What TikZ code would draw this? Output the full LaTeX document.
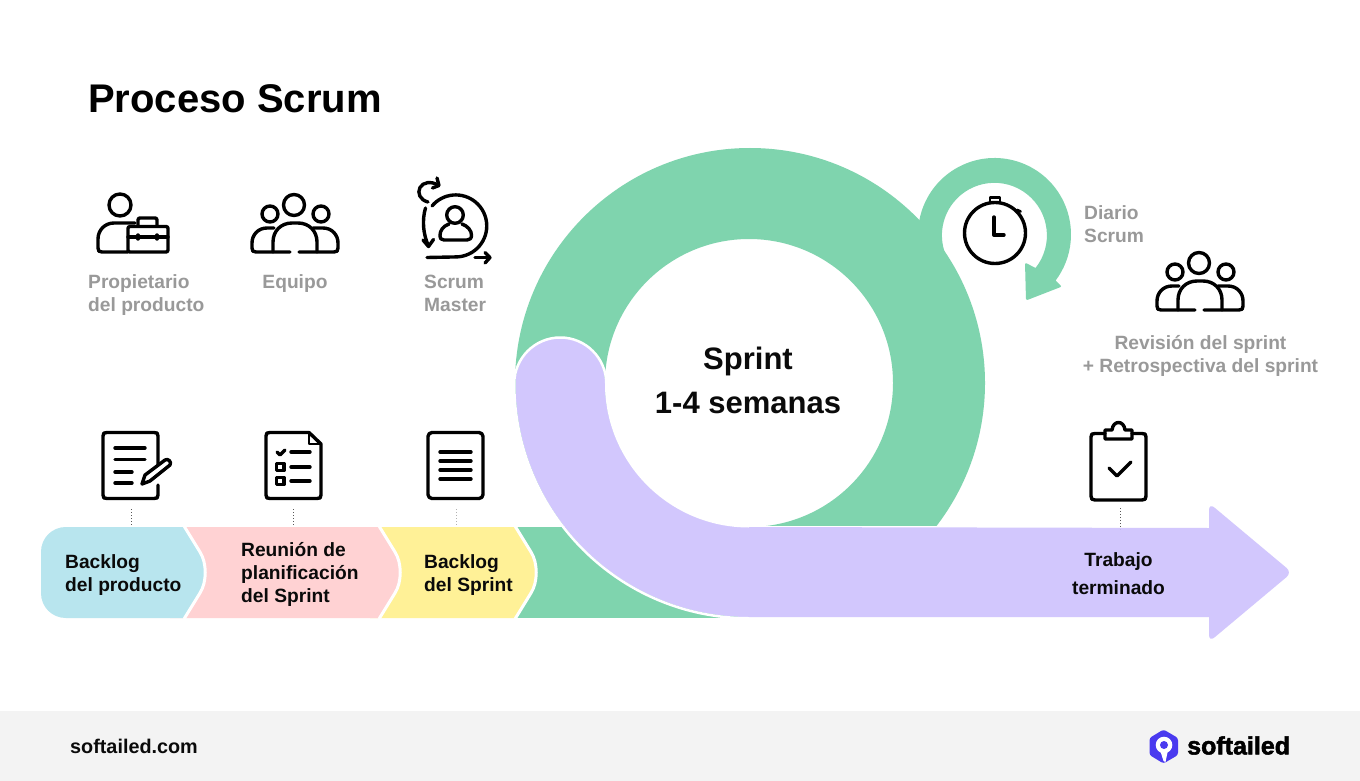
\documentclass[tikz,border=0pt]{standalone}
\usepackage{fontspec}
\setmainfont{Liberation Sans}
\newfontfamily\brandfont[BoldFeatures={FakeBold=2}]{Liberation Sans}
\usetikzlibrary{arrows.meta}
\definecolor{ringgreen}{HTML}{7FD4AE}
\definecolor{lav}{HTML}{D2C7FD}
\definecolor{cblue}{HTML}{B8E5EE}
\definecolor{cpink}{HTML}{FFD2D3}
\definecolor{cyellow}{HTML}{FFF197}
\definecolor{foot}{HTML}{F3F3F3}
\definecolor{logoblue}{HTML}{4A3AEF}
\definecolor{graytxt}{HTML}{999999}
\definecolor{inkblack}{HTML}{0A0A0A}
\tikzset{
  icon/.style={draw=black,line width=3.4pt,line cap=round,line join=round},
  greylab/.style={inner sep=0pt,text=graytxt,font=\bfseries\fontsize{19.2}{23}\selectfont},
  darklab/.style={inner sep=0pt,text=inkblack,font=\bfseries\fontsize{19.2}{23}\selectfont},
  leader/.style={draw=black!65,line width=0.7pt,dash pattern=on 1pt off 2pt},
}
\newcommand{\teamicon}[2]{%
  \begin{scope}[shift={(#1,#2)}]
    \draw[icon] (294,205) circle[radius=10.5];
    \draw[icon] (270,214) circle[radius=8];
    \draw[icon] (321,214) circle[radius=8];
    \draw[icon] (273,252) -- (273,242) .. controls (273,231) and (281,223) .. (292,223) -- (298,223) .. controls (309,223) and (317,231) .. (317,242) -- (317,252);
    \draw[icon] (290,252) -- (256,252) .. controls (253,252) and (252,251) .. (252,248) -- (252,243) .. controls (252,235) and (258,228) .. (267,228) -- (274,228);
    \draw[icon] (299,252) -- (334,252) .. controls (337,252) and (338,251) .. (338,248) -- (338,243) .. controls (338,235) and (332,228) .. (323,228) -- (313,228);
  \end{scope}}
\newcommand{\chevronfill}[3]{%
  \fill[#1] (#2,527) -- (#3,527) -- (#3+16,552) .. controls (#3+23,563) and (#3+23,582) .. (#3+16,593) -- (#3,618) -- (#2,618) -- cycle;
  \draw[white,line width=3pt] (#3,526) -- (#3+16,552) .. controls (#3+23,563) and (#3+23,582) .. (#3+16,593) -- (#3,619);}
\begin{document}
\begin{tikzpicture}[x=1pt,y=1pt,yscale=-1]
\useasboundingbox (0,0) rectangle (1360,781);
\fill[white] (0,0) rectangle (1360,781);
\fill[foot] (0,711) rectangle (1360,781);

% Big ring
\begin{scope}
  \clip (400,100) rectangle (1100,525);
  \fill[ringgreen,even odd rule] (750,383) circle[radius=235] (749,383) circle[radius=144];
\end{scope}
% Daily loop
\fill[ringgreen] (994.5,234.5) ++(155:76.5) arc[start angle=155,end angle=397,radius=76.5]
   -- (1059,284) [rounded corners=2pt] -- (1062,286.5) -- (1026,300.5) -- (1025,262.5) [sharp corners] -- (1035.5,268)
   arc[start angle=398.5,end angle=155,radius=52.5] -- cycle;
% Lower green band
\fill[ringgreen] (510,527) rectangle (740,618);
% Chevrons
\chevronfill{cyellow}{370}{515}
\chevronfill{cpink}{170}{379}
\fill[cblue] (66,527) -- (184,527) -- (184+16,552) .. controls (184+23,563) and (184+23,582) .. (184+16,593) -- (184,618) -- (66,618) .. controls (52,618) and (41,607) .. (41,593) -- (41,552) .. controls (41,538) and (52,527) .. (66,527) -- cycle;
\draw[white,line width=3pt] (184,526) -- (184+16,552) .. controls (184+23,563) and (184+23,582) .. (184+16,593) -- (184,619);

% Lavender arrow
\fill[lav] (515.5,383) arc[start angle=180,end angle=360,radius=44.75]
  arc[start angle=180,end angle=90,radius=144] -- (1209,528)
  [rounded corners=7pt] -- (1209,503) -- (1292,572.5) -- (1209,642) [sharp corners] -- (1209,617) -- (749,617)
  arc[start angle=90,end angle=180,radius=233.5] -- cycle;
\draw[white,line width=2.5pt] (749,618.25) arc[start angle=90,end angle=180,radius=234.75] arc[start angle=180,end angle=360,radius=46] arc[start angle=180,end angle=90,radius=142.75];

% Leaders
\coordinate (l1a) at (131,509); \coordinate (l1b) at (131,527);
\coordinate (l2a) at (293,509); \coordinate (l2b) at (293,527);
\coordinate (l3a) at (456,509); \coordinate (l3b) at (456,527);
\coordinate (l4a) at (1120,508); \coordinate (l4b) at (1120,529);
\draw[leader] (l1a) -- (l1b);
\draw[leader] (l2a) -- (l2b);
\draw[leader,draw=black!30] (l3a) -- (l3b);
\draw[leader] (l4a) -- (l4b);

% Owner icon
\draw[icon] (120,205) circle[radius=11];
\draw[icon] (135,223) -- (114,223) .. controls (105,223) and (98,230) .. (98,239) -- (98,248) .. controls (98,251) and (99,252) .. (102,252) -- (128,252);
\draw[icon,rounded corners=2pt] (128,226.5) rectangle (168,252);
\draw[icon] (128,237) -- (168,237);
\draw[icon] (138,235) -- (138,239);
\draw[icon] (157,235) -- (157,239);
\draw[icon] (138,226) -- (138,220) .. controls (138,218.5) and (139,218) .. (140,218) -- (155,218) .. controls (156,218) and (157,218.5) .. (157,220) -- (157,226);

% Team icons
\teamicon{0}{0}
\teamicon{905}{58}

% Scrum master icon
\draw[icon] (432,206) arc[start angle=-140,end angle=90,radius=31] -- (427,257.5);
\draw[icon] (425.5,208) .. controls (422,220) and (423,234) .. (428.5,246);
\draw[icon] (423,240) -- (428.5,246.5) -- (433.5,239.5);
\draw[icon] (475,257.5) -- (490,257.5);
\draw[icon] (485,252.5) -- (490,257.5) -- (485,263);
\draw[icon] (428,202) .. controls (420,200) and (417,193) .. (420,187.5) .. controls (423,182) and (431,181) .. (438,185);
\draw[icon] (437,178) -- (439,185.5) -- (432.5,188);
\draw[icon] (455,215) circle[radius=8.3];
\draw[icon] (449,224) .. controls (443,226) and (440,231) .. (440,235) .. controls (440,238.5) and (441,240) .. (444,240) -- (467,240) .. controls (470,240) and (471.5,238.5) .. (471.5,235) .. controls (471.5,231) and (468,226) .. (462,224);

% Backlog icon
\draw[icon] (158,465) -- (158,436) .. controls (158,433) and (157,432.5) .. (154,432.5) -- (107,432.5) .. controls (104,432.5) and (103,433) .. (103,436) -- (103,495) .. controls (103,498) and (104,498.5) .. (107,498.5) -- (154,498.5) .. controls (157,498.5) and (158,498) .. (158,495) -- (158,485);
\draw[icon] (115,448) -- (145,448) (115,459.5) -- (145,459.5) (115,472) -- (132,472) (115,483) -- (132,483);
\draw[icon] (142,484) -- (145,475) -- (165,460) .. controls (168,458) and (172,462) .. (170,465) -- (150,481) -- cycle;

% Checklist icon
\draw[icon] (309,432.5) -- (270,432.5) .. controls (267,432.5) and (266,433) .. (266,436) -- (266,495) .. controls (266,498) and (267,498.5) .. (270,498.5) -- (317,498.5) .. controls (320,498.5) and (321,498) .. (321,495) -- (321,444) -- cycle;
\draw[icon,line width=2pt] (309,432.5) -- (309,444) -- (321,444);
\draw[icon] (277,452) -- (280,455) -- (285,450);
\draw[icon] (291,452) -- (310,452) (291,467) -- (310,467) (291,481) -- (310,481);
\draw[icon] (276.5,463.5) rectangle (284,470.5);
\draw[icon] (276.5,477.5) rectangle (284,484.5);

% Document icon
\draw[icon,rounded corners=4pt] (428,432.5) rectangle (483,498.5);
\draw[icon] (440,452) -- (471,452) (440,461) -- (471,461) (440,470) -- (471,470) (440,479) -- (471,479);

% Clipboard icon
\draw[icon] (1105,433.5) -- (1095,433.5) .. controls (1092,433.5) and (1091,434) .. (1091,437) -- (1091,496) .. controls (1091,499) and (1092,500) .. (1095,500) -- (1142,500) .. controls (1145,500) and (1146,499) .. (1146,496) -- (1146,437) .. controls (1146,434) and (1145,433.5) .. (1142,433.5) -- (1132,433.5);
\draw[icon] (1105,430) -- (1105,439) -- (1132,439) -- (1132,430) -- (1125,430) .. controls (1124,420) and (1113,420) .. (1112,430) -- cycle;
\draw[icon] (1109,468) -- (1117,476) -- (1131,462);

% Stopwatch icon
\draw[icon] (995,233) circle[radius=30.5];
\draw[icon,line width=2.8pt] (990,202) -- (990,197.5) -- (1000,197.5) -- (1000,202);
\draw[icon,line width=2.8pt] (1017,210) -- (1020.5,211.5);
\draw[icon] (994,217) -- (994,235) -- (1004,235);

% Texts
\node[anchor=west,inner sep=0pt,text=black,font=\bfseries\fontsize{40}{48}\selectfont] (title) at (88,99) {Proceso Scrum};
\node[greylab,anchor=west,align=left] (owner) at (88,295.5) {Propietario\\del producto};
\node[greylab] (team) at (295,283.5) {Equipo};
\node[greylab,anchor=west,align=left] (master) at (424,293.5) {Scrum\\Master};
\node[greylab,anchor=west,align=left] (daily) at (1084,224.5) {Diario\\Scrum};
\node[greylab,align=center] (review) at (1200.5,356) {Revisión del sprint\\+ Retrospectiva del sprint};
\node[inner sep=0pt,text=inkblack,font=\bfseries\fontsize{31}{44}\selectfont,align=center] (sprint) at (748,380.5) {Sprint\\1-4 semanas};
\node[darklab,anchor=west,align=left] (pb) at (65,575) {Backlog\\del producto};
\node[darklab,anchor=west,align=left] (plan) at (241,574.5) {Reunión de\\planificación\\del Sprint};
\node[darklab,anchor=west,align=left] (sb) at (424,575.5) {Backlog\\del Sprint};
\node[inner sep=0pt,text=inkblack,font=\bfseries\fontsize{19.2}{28}\selectfont,align=center] (done) at (1118.5,573.5) {Trabajo\\terminado};
\node[anchor=west,inner sep=0pt,text=inkblack,font=\bfseries\fontsize{19.8}{23}\selectfont] (site) at (70,746) {softailed.com};

% Logo
\fill[logoblue,rounded corners=2.5pt] (1163.5,729.5) -- (1178,738) -- (1178,755) -- (1163.5,763.5) -- (1149.5,755) -- (1149.5,738) -- cycle;
\fill[white] (1164,745) circle[radius=8.3];
\fill[white] (1160,750) -- (1168,750) -- (1165.5,762) -- (1163.5,761) -- cycle;
\fill[logoblue] (1164,745) circle[radius=4];
\node[anchor=west,inner sep=0pt,text=black,font=\brandfont\bfseries\fontsize{25}{28}\selectfont] (brand) at (1187,745.5) {softailed};
\end{tikzpicture}
\end{document}
